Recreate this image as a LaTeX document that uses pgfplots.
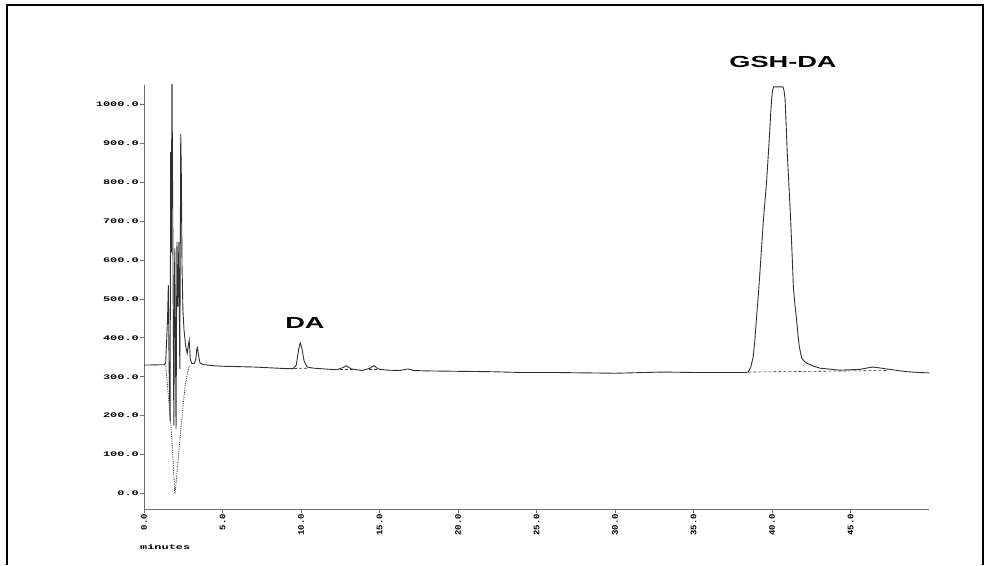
\documentclass[border=0pt]{standalone}
\usepackage{fontspec}
\setmainfont{Liberation Sans}
\setmonofont{Liberation Mono}
\usepackage{graphicx}
\usepackage{pgfplots}
\pgfplotsset{compat=1.18}
\newcommand\yl[1]{\scalebox{1.7}[1]{\fontsize{7}{8}\selectfont\ttfamily\bfseries #1}}
\newcommand\xl[1]{\scalebox{1.05}[1]{\fontsize{8.5}{9}\selectfont\ttfamily\bfseries #1}}
\definecolor{trace}{HTML}{303030}
\definecolor{axgray}{HTML}{707070}
\begin{document}
\begin{tikzpicture}[x=1pt,y=1pt]
\useasboundingbox (0,0) rectangle (984,565);
\draw[line width=1.5pt] (7,0) -- (7,560) -- (983,560) -- (983,0);
\begin{axis}[at={(144pt,56pt)}, anchor=south west, scale only axis,
  width=785pt, height=424pt,
  xmin=0, xmax=50, ymin=-40, ymax=1050,
  axis lines=left,
  axis line style={-, axgray, line width=0.9pt},
  tick style={axgray, line width=0.8pt},
  tick align=outside, major tick length=4pt,
  xtick={0,5,10,15,20,25,30,35,40,45},
  xticklabels={\xl{0.0},\xl{5.0},\xl{10.0},\xl{15.0},\xl{20.0},\xl{25.0},\xl{30.0},\xl{35.0},\xl{40.0},\xl{45.0}},
  ytick={0,100,200,300,400,500,600,700,800,900,1000},
  yticklabels={\yl{0.0},\yl{100.0},\yl{200.0},\yl{300.0},\yl{400.0},\yl{500.0},\yl{600.0},\yl{700.0},\yl{800.0},\yl{900.0},\yl{1000.0}},
  xticklabel style={rotate=90, anchor=east, inner sep=1pt},
  yticklabel style={inner sep=1pt},
  clip mode=individual]
% main trace
\addplot[trace, line width=0.9pt] coordinates {
(0,330) (1.30,331) (1.38,336) (1.45,400) (1.50,450) (1.55,535) (1.60,320) (1.66,185)
(1.70,878) (1.74,620) (1.78,1100) (1.84,640) (1.90,175) (1.96,630) (2.00,420)
(2.04,165) (2.10,647) (2.16,480) (2.22,647) (2.28,320) (2.34,925) (2.38,812)
(2.42,590) (2.48,470) (2.55,420) (2.65,380) (2.75,360) (2.82,380) (2.88,394)
(2.95,345) (3.05,334) (3.20,334) (3.30,345) (3.36,370) (3.41,375) (3.47,355)
(3.57,335) (3.80,331) (4.50,328) (5,327) (6,326) (7,325) (8,323) (9,321)
(9.50,321) (9.70,330) (9.85,370) (9.95,387) (10.05,375) (10.20,340) (10.40,325)
(10.80,322) (11.50,320) (12.30,318) (12.70,324) (12.90,328) (13.20,320) (13.90,316)
(14.40,322) (14.65,329) (14.90,320) (15.50,317) (16.30,316) (16.80,320) (17.20,316)
(18,315) (20,314) (22,313) (24,311) (26,311) (28,310) (30,309) (31,310) (33,312)
(35,311) (37,311) (38.30,311) (38.49,312) (38.65,325) (38.80,351) (38.90,390)
(39.00,445) (39.12,505) (39.24,574) (39.35,640) (39.45,702) (39.56,755) (39.66,805)
(39.77,875) (39.87,942) (39.93,985) (39.98,1015) (40.03,1035) (40.10,1045)
(40.70,1045) (40.77,1035) (40.83,1015) (40.90,950) (40.97,875) (41.08,790)
(41.19,702) (41.28,615) (41.36,531) (41.46,485) (41.57,445) (41.66,405) (41.74,377)
(41.89,348) (42.05,340) (42.20,335) (42.60,328) (43.06,322) (44.30,317)
(45.00,318) (45.60,319) (46.00,322) (46.40,325) (46.80,323) (47.30,320)
(48.00,316) (48.60,313) (49.30,311) (50,310)
};
% dotted baselines at solvent front
\addplot[trace, densely dotted, line width=0.8pt] coordinates {
(1.38,332) (1.48,283) (1.61,223) (1.72,171) (1.83,103) (1.93,26) (1.97,0)
(2.02,17) (2.19,94) (2.40,188) (2.61,274) (2.76,308) (2.89,330)
};
% dashed peak baselines
\addplot[trace, densely dashed, line width=0.6pt] coordinates {(9.55,321) (10.50,322)};
\addplot[trace, densely dashed, line width=0.6pt] coordinates {(12.50,318) (13.40,318)};
\addplot[trace, densely dashed, line width=0.6pt] coordinates {(14.30,318) (15.10,318)};
\addplot[trace, densely dashed, line width=0.6pt] coordinates {(38.50,312) (47.30,316)};
\node[font=\fontsize{16}{18}\selectfont\bfseries, xscale=1.7] at (axis cs:10.25,438) {DA};
\node[font=\fontsize{16}{18}\selectfont\bfseries, xscale=1.7] at (axis cs:40.7,1109) {GSH-DA};
\end{axis}
\node[anchor=west, inner sep=0pt] at (140,18) {\scalebox{1.7}[1]{\fontsize{7}{8}\selectfont\ttfamily\bfseries minutes}};
\end{tikzpicture}
\end{document}
